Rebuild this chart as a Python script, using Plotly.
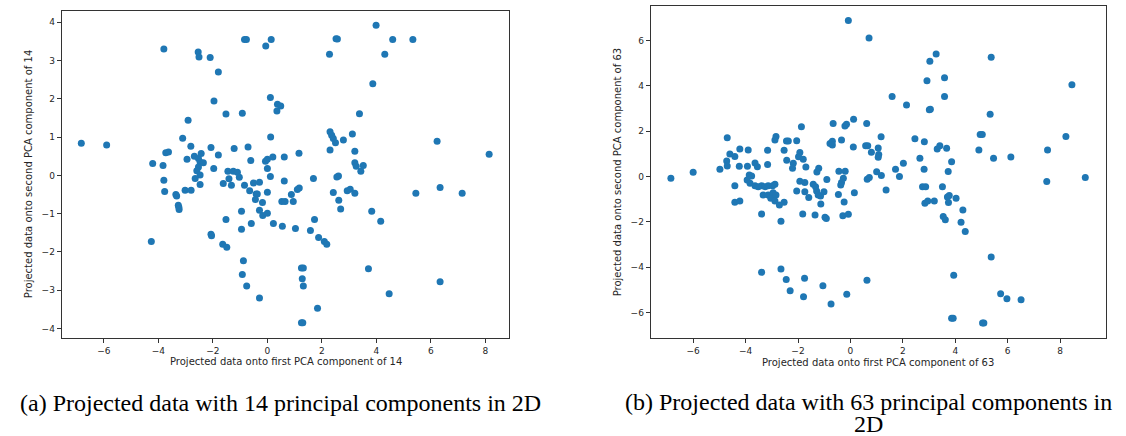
import plotly.graph_objects as go

# Projection onto the first two PCA components, 14-component model
pc14_x = [-6.83, -5.90, -3.80, -2.54, -2.51, -2.10, -1.80, -1.96, -1.52, -0.92,
          -0.84, -0.77, -0.06, 0.14, 0.11, 0.37, 0.49, 0.35, -2.91, -3.11,
          -2.81, -2.07, -1.22, -0.71, 0.12, 2.30, 2.36, 2.42, 2.50, 3.12,
          2.79, 2.30, 3.21, -3.73, -3.63, -4.21, -3.83, -2.95, -2.68, -2.53,
          -2.43, -2.47, -2.35, -2.53, -2.59, -2.47, -2.65, -1.80, -1.97, -0.61,
          -0.07, 0.00, 0.20, 0.62, 1.16, 0.00, 3.21, 3.26, 3.52, 3.43,
          -1.45, -1.25, -1.10, -1.03, -1.41, -1.62, -1.32, -0.84, -0.51, -0.29,
          0.11, 0.62, 1.69, 2.61, 2.55, -3.80, -3.77, -3.36, -3.33, -3.02,
          -2.80, -2.47, -3.27, -3.24, -3.25, -0.65, -0.41, -0.37, -0.44, 0.00,
          -0.18, 0.53, 0.65, 0.88, 0.95, 1.10, 1.17, 2.42, 2.62, 2.69,
          2.93, 3.04, 3.21, 3.83, 4.16, -0.29, -0.17, 0.00, -0.95, -1.52,
          -0.59, -0.95, 0.22, 0.55, 1.03, 1.73, 1.58, 1.88, 2.09, 2.18,
          -2.07, -2.05, -1.64, -1.49, -4.26, -0.88, -0.92, -0.76, -0.29, 1.25,
          1.32, 1.28, 1.32, 3.71, 6.34, 4.47, 1.84, 1.25, 1.30, 2.52,
          2.57, 3.99, 4.60, 5.34, 2.28, 4.31, 3.87, 3.38, 6.23, 8.14,
          5.45, 6.34, 7.15]
pc14_y = [0.84, 0.79, 3.30, 3.22, 3.09, 3.08, 2.70, 1.94, 1.60, 1.62,
          3.55, 3.55, 3.38, 3.55, 2.03, 1.86, 1.81, 1.68, 1.44, 0.97,
          0.76, 0.73, 0.70, 0.74, 1.00, 1.14, 1.05, 0.96, 0.85, 1.08,
          0.92, 0.66, 0.63, 0.59, 0.61, 0.31, 0.26, 0.42, 0.50, 0.44,
          0.57, 0.35, 0.33, 0.22, 0.12, 0.01, -0.08, 0.53, 0.18, 0.39,
          0.37, 0.42, 0.48, 0.48, 0.58, 0.18, 0.33, 0.24, 0.26, 0.11,
          0.11, 0.11, 0.08, -0.05, -0.09, -0.21, -0.26, -0.26, -0.20, -0.18,
          -0.03, -0.15, -0.08, -0.02, -0.04, -0.13, -0.42, -0.50, -0.54, -0.39,
          -0.39, -0.24, -0.78, -0.89, -0.83, -0.40, -0.49, -0.49, -0.63, -0.44,
          -0.71, -0.68, -0.68, -0.50, -0.68, -0.37, -0.33, -0.45, -0.65, -0.88,
          -0.40, -0.36, -0.47, -0.94, -1.20, -0.91, -1.05, -0.99, -0.94, -1.15,
          -1.26, -1.41, -1.26, -1.33, -1.39, -1.15, -1.44, -1.62, -1.73, -1.80,
          -1.54, -1.58, -1.80, -1.88, -1.73, -2.23, -2.59, -2.89, -3.20, -2.42,
          -2.42, -2.70, -2.89, -2.44, -2.78, -3.09, -3.47, -3.85, -3.85, 3.57,
          3.56, 3.92, 3.55, 3.55, 3.16, 3.16, 2.39, 1.61, 0.89, 0.55,
          -0.47, -0.32, -0.47]

# Projection onto the first two PCA components, 63-component model
pc63_x = [-6.85, -6.00, -4.98, -4.70, -4.72, -4.70, -4.60, -4.41, -4.22, -3.90,
          -4.24, -3.93, -3.64, -3.55, -3.16, -3.16, -2.84, -2.88, -2.44, -2.37,
          -2.53, -2.05, -1.87, -1.93, -1.98, -2.43, -2.18, -2.21, -1.80, -1.70,
          -1.21, -1.28, -0.66, -0.21, -0.15, 0.12, 0.62, -0.78, -0.69, -0.69,
          -0.34, 0.11, 0.58, 0.66, 1.06, 1.08, 1.06, 0.80, 1.17, 1.59,
          2.14, 3.01, 3.05, 3.59, 2.46, 2.82, 3.31, 3.41, 3.67, 2.65,
          3.86, 4.90, 4.95, -4.41, -3.86, -3.77, -3.94, -3.83, -3.64, -3.52,
          -3.39, -3.26, -3.14, -2.97, -2.88, -3.33, -3.14, -3.04, -2.95, -2.84,
          -2.88, -4.41, -4.22, -2.71, -2.53, -3.39, -2.65, -1.93, -1.74, -2.05,
          -1.74, -1.59, -1.42, -1.33, -1.29, -1.23, -1.14, -1.01, -1.13, -0.90,
          -1.82, -1.35, -0.97, -0.92, -0.44, -0.20, -0.27, -0.34, -0.37, -0.46,
          -0.24, 0.15, -0.29, -0.08, 0.64, 0.72, 1.00, 1.18, 1.36, 1.72,
          1.87, 2.02, 2.81, 3.73, 2.75, 2.87, 3.51, 2.84, 2.95, 3.20,
          3.70, 3.77, 4.03, 3.74, 4.29, 3.54, 3.62, 4.22, 4.38, -0.08,
          0.71, 3.27, 3.03, 5.37, 2.92, 3.59, 5.33, 8.45, 5.03, 5.46,
          6.12, 7.52, 8.22, 8.96, 7.49, 5.37, 3.94, 0.63, 5.73, 5.97,
          6.51, 3.86, 3.92, 5.04, 5.09, -3.39, -2.65, -2.45, -1.75, -2.30,
          -1.79, -1.05, -0.74, -0.14]
pc63_y = [-0.08, 0.19, 0.32, 1.71, 0.68, 0.46, 0.99, 0.88, 1.21, 1.17,
          0.45, 0.45, 0.60, 0.43, 1.16, 0.53, 1.77, 1.61, 1.57, 1.57,
          1.16, 1.58, 2.20, 1.06, 0.87, 0.72, 0.58, 0.36, 0.76, 0.42,
          0.36, 0.20, 2.34, 2.23, 2.30, 2.53, 2.34, 1.46, 1.56, 1.39,
          1.61, 1.30, 1.36, 1.36, 1.26, 0.97, 0.85, 1.07, 1.75, 3.53,
          3.15, 2.94, 2.97, 3.53, 1.66, 1.53, 1.21, 1.36, 1.25, 0.81,
          0.65, 1.17, 1.85, -0.41, 0.07, 0.02, -0.15, -0.30, -0.41, -0.45,
          -0.41, -0.45, -0.41, -0.41, -0.34, -0.82, -0.82, -0.96, -0.72, -0.82,
          -1.08, -1.14, -1.08, -1.26, -1.14, -1.66, -1.97, -0.21, -0.26, -0.64,
          -0.67, -0.93, -0.34, -0.45, -0.64, -0.82, -0.86, -0.67, -1.21, -0.13,
          -1.66, -1.70, -1.80, -1.85, 0.23, 0.23, -0.08, -0.26, -0.38, -0.79,
          -1.13, -0.72, -1.73, -1.67, -0.12, -0.04, 0.21, 0.04, -0.60, 0.32,
          0.00, 0.58, 0.32, 0.22, -0.45, -0.45, -0.45, -1.18, -1.08, -1.08,
          -0.91, -0.84, -0.96, -1.15, -1.48, -1.76, -1.91, -2.02, -2.43, 6.88,
          6.11, 5.40, 5.09, 5.26, 4.23, 4.36, 2.75, 4.05, 1.85, 0.80,
          0.86, 1.17, 1.76, -0.04, -0.22, -3.55, -4.36, -4.58, -5.17, -5.40,
          -5.44, -6.25, -6.25, -6.47, -6.47, -4.23, -4.08, -4.54, -4.49, -5.04,
          -5.31, -4.82, -5.63, -5.20]

x_ticks = [-6, -4, -2, 0, 2, 4, 6, 8]
y_ticks_14 = [-4, -3, -2, -1, 0, 1, 2, 3, 4]
y_ticks_63 = [-6, -4, -2, 0, 2, 4, 6]

x_title_14 = "Projected data onto first PCA component of 14"
y_title_14 = "Projected data onto second PCA component of 14"
x_title_63 = "Projected data onto first PCA component of 63"
y_title_63 = "Projected data onto second PCA component of 63"
caption_a = "(a) Projected data with 14 principal components in 2D"
caption_b1 = "(b) Projected data with 63 principal components in"
caption_b2 = "2D"

W, H = 1126, 436
BLUE = "#1f77b4"
INK = "#262626"
TICK_FONT = dict(family="DejaVu Sans", size=9, color=INK)


def px(x):
    return x / W


def py(y):
    return 1 - y / H


fig = go.Figure()
fig.add_trace(go.Scatter(x=pc14_x, y=pc14_y, mode="markers",
                         marker=dict(size=7, color=BLUE, line=dict(width=0)),
                         xaxis="x", yaxis="y", showlegend=False))
fig.add_trace(go.Scatter(x=pc63_x, y=pc63_y, mode="markers",
                         marker=dict(size=7, color=BLUE, line=dict(width=0)),
                         xaxis="x2", yaxis="y2", showlegend=False))

axis_style = dict(showgrid=False, zeroline=False, showline=True, mirror=True,
                  linecolor="#333333", linewidth=1, ticks="outside", ticklen=4,
                  tickwidth=1, tickcolor="#333333", tickfont=TICK_FONT,
                  tickmode="array")

L1, R1, T1, B1 = 61.7, 509.3, 10.7, 337.7
L2, R2, T2, B2 = 650.7, 1106.0, 6.3, 338.3

fig.update_layout(
    width=W, height=H, margin=dict(l=0, r=0, t=0, b=0),
    paper_bgcolor="white", plot_bgcolor="white",
    xaxis=dict(domain=[px(L1), px(R1)], range=[-7.55, 8.88], anchor="y",
               tickvals=x_ticks, **axis_style),
    yaxis=dict(domain=[py(B1), py(T1)], range=[-4.24, 4.30], anchor="x",
               tickvals=y_ticks_14, **axis_style),
    xaxis2=dict(domain=[px(L2), px(R2)], range=[-7.62, 9.75], anchor="y2",
                tickvals=x_ticks, **axis_style),
    yaxis2=dict(domain=[py(B2), py(T2)], range=[-7.14, 7.51], anchor="x2",
                tickvals=y_ticks_63, **axis_style),
)

title_font = dict(family="DejaVu Sans", size=10, color=INK)
caption_font = dict(family="Liberation Serif", size=24, color="black")

annotations = [
    dict(text=x_title_14, x=px((L1 + R1) / 2), y=py(361), font=title_font),
    dict(text=x_title_63, x=px((L2 + R2) / 2), y=py(362), font=title_font),
    dict(text=y_title_14, x=px(28), y=py((T1 + B1) / 2), textangle=-90,
         font=title_font),
    dict(text=y_title_63, x=px(617), y=py((T2 + B2) / 2), textangle=-90,
         font=title_font),
    dict(text=caption_a, x=px(280), y=py(403), font=caption_font),
    dict(text=caption_b1, x=px(868), y=py(402), font=caption_font),
    dict(text=caption_b2, x=px(868), y=py(424), font=caption_font),
]
for a in annotations:
    a.update(xref="paper", yref="paper", showarrow=False,
             xanchor="center", yanchor="middle")
fig.update_layout(annotations=annotations)

fig.write_html("out.html")
